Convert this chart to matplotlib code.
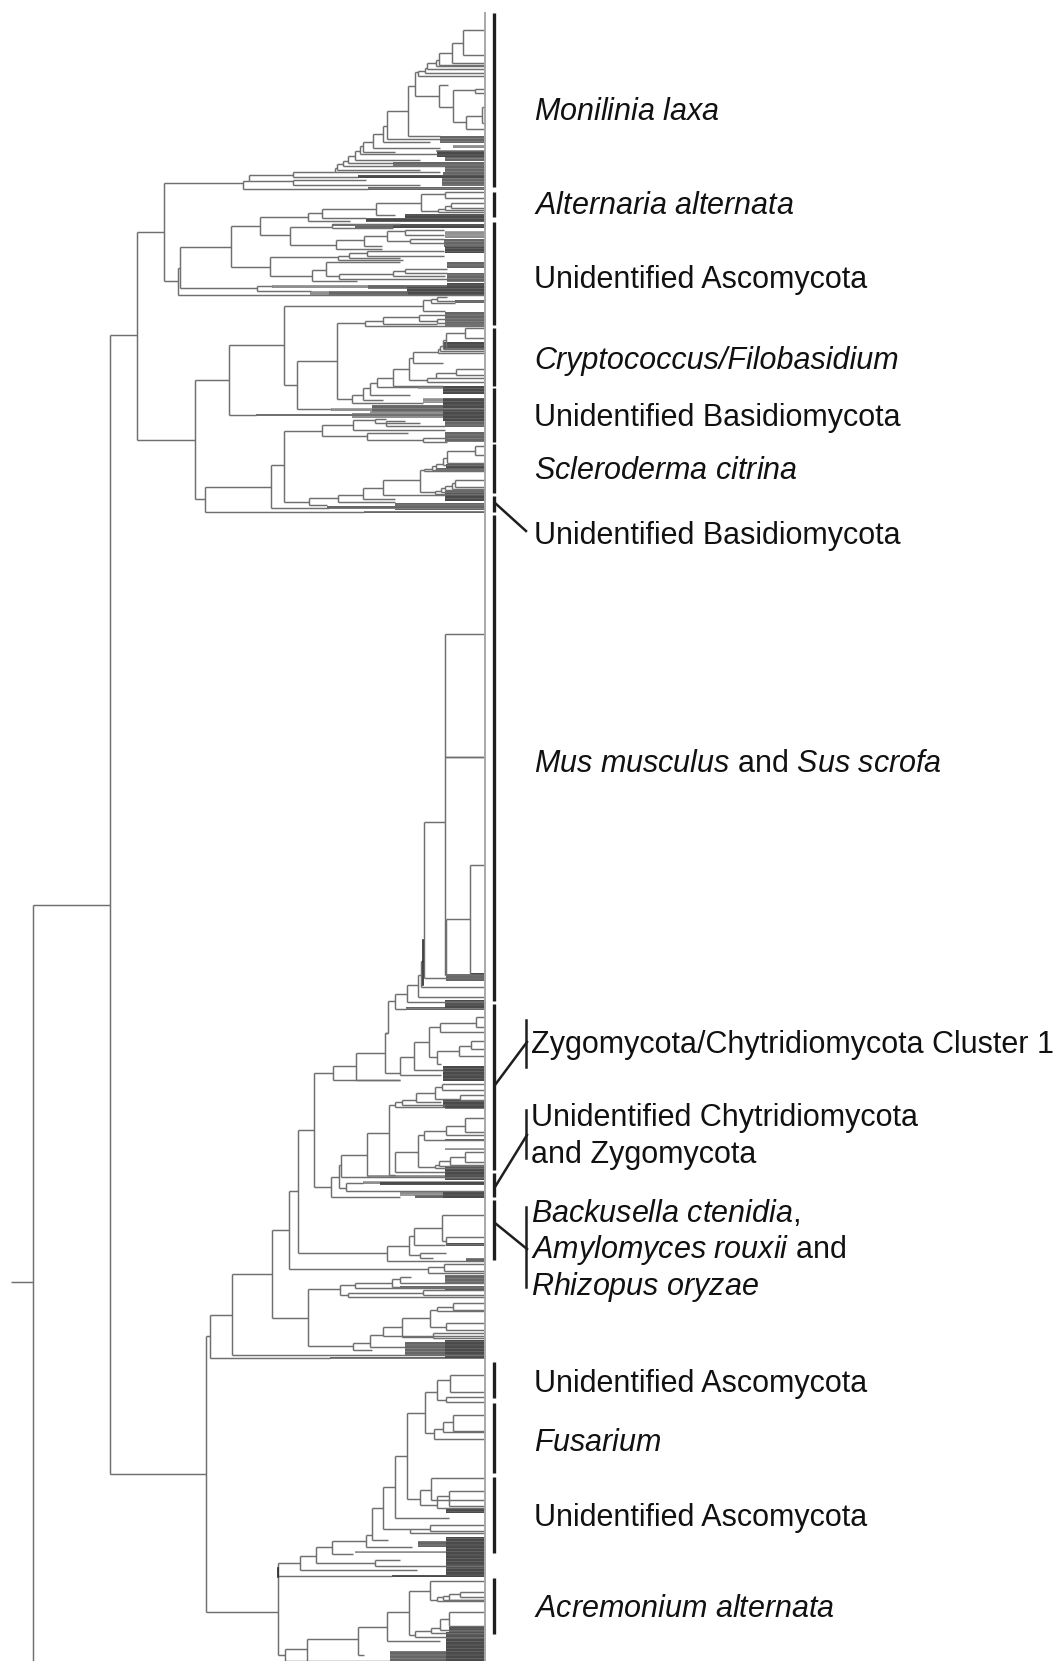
#!/usr/bin/python3
import matplotlib
matplotlib.use("Agg")
import matplotlib.pyplot as plt
from matplotlib.collections import LineCollection

plt.rcParams["font.family"] = ["Liberation Sans", "DejaVu Sans"]
plt.rcParams["mathtext.fontset"] = "custom"
plt.rcParams["mathtext.rm"] = "Liberation Sans"
plt.rcParams["mathtext.it"] = "Liberation Sans:italic"
plt.rcParams["hatch.linewidth"] = 0.45

# branches: (height, y top, end of top arm, y bottom, end of bottom arm)
TIP = 485
ramas_arriba = [
    (137, 232, 164, 440, 195), (164, 183, 243, 281, 178), (243, 181, 249, 189, 368),
    (249, 175, 293, 181, 293), (293, 172, 335, 177, 358), (293, 180, 366, 185, 420),
    (335, 168, 337, 172, 440), (337, 164, 343, 170, 420), (343, 161, 348, 166, 445),
    (348, 156, 355, 163, 393), (355, 151, 360, 160, 420), (360, 146, 363, 154, 437),
    (363, 142, 373, 152, 395), (373, 134, 383, 148, 440), (383, 126, 387, 142, 430),
    (387, 111, 408, 139, 440), (408, 86, 415, 136, 440), (415, 72, 418, 96, 439),
    (439, 85, 448, 107, 453), (453, 90, 475, 122, 466), (475, 89, TIP, 93, TIP),
    (466, 116, 482, 129, TIP), (482, 107, TIP, 123, TIP), (418, 71, 425, 76, TIP),
    (425, 68, 427, 73, TIP), (427, 63, 436, 69, TIP), (436, 60, 439, 66, TIP),
    (439, 53, 452, 65, TIP), (452, 43, 463, 63, TIP), (463, 30, TIP, 55, TIP),
    (178, 268, 180, 295, TIP), (180, 247, 231, 288, 257), (231, 226, 260, 267, 270),
    (257, 286, 272, 291, 311),
    (260, 217, 308, 235, 290), (308, 213, 322, 221, 350), (322, 209, 376, 218, 366),
    (376, 203, 421, 215, 395), (421, 194, 445, 211, 438), (445, 192, TIP, 198, TIP),
    (438, 209, 445, 212, TIP), (445, 206, 451, 210, TIP), (451, 203, TIP, 208, TIP),
    (290, 227, 332, 245, 336), (332, 224, 400, 228, 393), (336, 240, 364, 249, 382),
    (364, 236, 387, 246, 382), (387, 231, 405, 241, 410), (405, 230, 444, 235, 444),
    (410, 239, 444, 243, 444), (270, 257, 338, 276, 312), (338, 256, 349, 260, 403),
    (349, 253, 367, 258, 400), (367, 251, 444, 256, 444), (312, 270, 326, 281, 357),
    (326, 262, 400, 276, 339), (339, 274, 393, 279, 447), (393, 271, 405, 276, 445),
    (405, 269, 447, 273, 447),
]
ramas_basidio = [
    (195, 380, 229, 499, 205), (229, 345, 284, 415, 256), (284, 306, 423, 385, 297),
    (297, 361, 337, 409, 331), (337, 323, 365, 399, 352), (352, 395, 363, 403, 423),
    (363, 388, 370, 400, 383), (370, 383, 377, 395, 410), (377, 378, 393, 387, 418),
    (393, 369, 409, 386, 443), (409, 358, 413, 380, 427), (413, 352, 438, 363, 443),
    (438, 349, 440, 353, TIP), (440, 346, 443, 351, TIP), (443, 340, 446, 349, TIP),
    (446, 333, 465, 348, TIP), (465, 328, TIP, 338, TIP), (427, 378, 436, 382, TIP),
    (436, 373, 456, 378, TIP), (456, 369, TIP, 375, TIP), (423, 300, 431, 311, 445),
    (431, 299, 437, 303, 455), (437, 297, 447, 301, TIP), (365, 321, 383, 326, TIP),
    (383, 317, 419, 324, 437), (419, 315, 445, 321, 437), (437, 319, TIP, 323, TIP),
    (271, 465, 284, 508, 329), (205, 487, 271, 512, 364), (284, 431, 322, 502, 309),
    (322, 425, 353, 436, 367), (353, 420, 375, 430, 445), (375, 419, 386, 423, 420),
    (386, 421, 405, 426, 445), (367, 433, 408, 440, 423), (423, 438, 447, 442, 447),
    (309, 498, 338, 505, 327), (338, 495, 363, 502, 395), (363, 488, 383, 499, 395),
    (383, 480, 420, 495, 445), (420, 470, 424, 492, 435), (424, 469, 432, 471, TIP),
    (432, 466, 436, 470, TIP), (436, 464, 443, 469, TIP), (443, 458, 447, 465, TIP),
    (447, 451, 475, 463, TIP), (475, 446, TIP, 455, TIP), (435, 491, 441, 494, TIP),
    (441, 488, 445, 492, TIP), (445, 486, 452, 490, TIP), (452, 483, 455, 489, TIP),
    (455, 480, TIP, 487, TIP),
]
ramas_abajo = [
    (33, 905, 110, 1661, 33), (110, 335, 137, 1474, 206), (33, 1282, 11, 1282, 33),
    (445, 634, TIP, 975, TIP), (445, 757, TIP, 757, TIP), (446, 919, 470, 975, TIP),
    (470, 865, TIP, 975, TIP), (424, 822, 445, 978, TIP), (421, 961, 424, 987, TIP),
    (418, 975, 421, 997, TIP), (407, 985, 418, 1002, TIP), (395, 994, 407, 1009, 406),
    (388, 1001, 395, 1033, 385), (385, 1033, 388, 1073, 400), (356, 1053, 385, 1080, 400),
    (333, 1066, 356, 1080, 400), (314, 1073, 333, 1187, 331), (298, 1130, 314, 1253, 387),
    (289, 1191, 298, 1269, 428), (272, 1230, 289, 1318, 308), (232, 1274, 272, 1355, TIP),
    (210, 1315, 232, 1358, 330), (206, 1336, 210, 1612, 278), (400, 1057, 414, 1075, 441),
    (414, 1042, 429, 1070, 443), (429, 1027, 440, 1057, 437), (440, 1023, 476, 1032, TIP),
    (476, 1017, TIP, 1027, TIP), (437, 1051, 459, 1064, 441), (459, 1046, 471, 1056, TIP),
    (471, 1041, TIP, 1049, TIP), (331, 1177, 339, 1197, 400), (339, 1165, 341, 1188, 346),
    (341, 1155, 367, 1177, TIP), (346, 1183, 363, 1191, TIP), (367, 1133, 389, 1176, 368),
    (389, 1105, 395, 1175, 395), (395, 1102, 402, 1107, 445), (402, 1100, 416, 1105, 445),
    (416, 1093, 435, 1102, 441), (435, 1087, 442, 1099, 460), (442, 1084, TIP, 1090, TIP),
    (460, 1095, TIP, 1100, TIP), (395, 1152, 418, 1172, 445), (418, 1135, 424, 1167, 435),
    (424, 1131, 446, 1140, TIP), (446, 1126, 465, 1135, TIP), (465, 1118, TIP, 1132, TIP),
    (435, 1165, 439, 1168, TIP), (439, 1161, 450, 1166, TIP), (450, 1157, 465, 1165, TIP),
    (465, 1152, TIP, 1162, TIP), (387, 1246, 409, 1261, TIP), (409, 1236, 414, 1255, 420),
    (414, 1228, 442, 1245, 445), (442, 1215, TIP, 1241, 446), (446, 1237, TIP, 1244, TIP),
    (420, 1253, 446, 1258, 433), (428, 1267, 444, 1273, TIP), (444, 1264, TIP, 1271, TIP),
    (308, 1289, 340, 1346, 353), (340, 1285, 355, 1295, 348), (355, 1283, 392, 1288, TIP),
    (392, 1279, 400, 1287, TIP), (400, 1277, 411, 1283, TIP), (348, 1293, 423, 1297, TIP),
    (423, 1290, TIP, 1295, TIP), (353, 1343, 370, 1350, 372), (370, 1335, 383, 1347, 405),
    (383, 1327, 402, 1336, TIP), (402, 1318, 430, 1337, 433), (430, 1310, 437, 1327, 446),
    (437, 1307, 453, 1311, TIP), (453, 1303, TIP, 1310, TIP), (446, 1323, TIP, 1330, TIP),
    (433, 1333, TIP, 1338, TIP), (407, 1413, 425, 1499, 420), (425, 1392, 437, 1433, 434),
    (437, 1380, 450, 1400, 446), (450, 1375, TIP, 1392, TIP), (446, 1397, TIP, 1402, TIP),
    (434, 1429, 443, 1439, TIP), (443, 1422, 453, 1432, TIP), (453, 1415, TIP, 1431, TIP),
    (395, 1456, 407, 1518, 449), (420, 1490, 431, 1505, 437), (431, 1478, TIP, 1500, TIP),
    (437, 1496, 449, 1508, TIP), (449, 1491, TIP, 1506, TIP), (383, 1487, 395, 1529, 410),
    (372, 1508, 383, 1540, 388), (366, 1535, 372, 1547, 412), (332, 1541, 366, 1554, 353),
    (316, 1547, 332, 1563, 375), (300, 1556, 316, 1570, 417), (278, 1563, 300, 1576, 392),
    (278, 1576, 278, 1655, 285), (285, 1649, 307, 1661, 307), (307, 1639, 358, 1661, 400),
    (358, 1627, 387, 1655, 364), (387, 1612, 409, 1641, 440), (409, 1591, 430, 1635, 415),
    (430, 1581, TIP, 1600, 437), (437, 1597, 443, 1601, TIP), (443, 1596, 449, 1600, TIP),
    (449, 1594, 460, 1600, TIP), (460, 1592, TIP, 1597, TIP), (415, 1631, 431, 1637, TIP),
    (431, 1628, 440, 1633, TIP), (440, 1619, 449, 1630, TIP), (449, 1612, TIP, 1626, TIP),
    (410, 1529, 430, 1533, TIP), (430, 1525, TIP, 1531, TIP), (375, 1560, 400, 1566, TIP),
]

# darker bits of branch: (height, y top, y bottom)
tramos_negros = [(423, 940, 985), (278, 1568, 1577)]

# dark stretches near the tips: (start, y top, y bottom)
bandas_claras = [
    (453, 145, 148), (436, 150, 152), (272, 285, 288), (310, 291, 295), (418, 386, 389),
    (423, 398, 403), (331, 408, 411), (445, 231, 238), (363, 1181, 1184), (400, 1192, 1196),
    (405, 1345, 1348), (368, 1175, 1178), (445, 1148, 1150), (355, 1551, 1553),
    (370, 411, 418), (352, 413, 418),
]
bandas_medias = [
    (440, 136, 143), (445, 157, 161), (393, 162, 166), (445, 165, 172), (443, 172, 175),
    (442, 178, 186), (368, 187, 190), (368, 285, 289), (329, 291, 295), (444, 239, 247),
    (332, 224, 226), (355, 225, 228), (447, 262, 268), (447, 273, 282), (455, 300, 303),
    (445, 312, 326), (372, 405, 412), (256, 414, 416), (445, 420, 427), (445, 432, 442),
    (327, 506, 509), (395, 503, 510), (364, 511, 513),
    (446, 974, 981), (406, 1007, 1010), (445, 1106, 1109), (415, 1195, 1198), (445, 1139, 1141),
    (445, 1275, 1283), (466, 1258, 1261), (400, 1286, 1288), (405, 1342, 1356), (330, 1357, 1359),
    (418, 1541, 1547), (390, 1651, 1661),
]
bandas_oscuras = [
    (437, 151, 157), (358, 175, 178), (393, 224, 228), (405, 214, 219), (366, 218, 222),
    (445, 247, 253), (447, 283, 290), (407, 287, 292), (408, 291, 295), (443, 342, 349),
    (443, 386, 394), (443, 398, 408), (443, 410, 421), (445, 491, 501), (436, 468, 470),
    (446, 464, 470), (470, 973, 976), (445, 1000, 1008), (443, 1066, 1081), (443, 1100, 1108),
    (445, 1167, 1180), (380, 1182, 1185), (443, 1192, 1198), (446, 1243, 1246), (445, 1287, 1290),
    (445, 1340, 1358), (446, 1508, 1513), (446, 1537, 1575), (392, 1575, 1577), (449, 1627, 1632),
    (446, 1632, 1661),
]

# black bars beside the tree
barras_y0 = [13, 192, 222, 328, 388, 444, 496, 515, 1004, 1173, 1200, 1362, 1403, 1477, 1578]
barras_y1 = [187, 217, 325, 386, 442, 493, 512, 1001, 1170, 1197, 1260, 1398, 1473, 1553, 1634]

lideres_x = [(495, 526), (495, 527), (495, 527), (495, 527)]
lideres_y = [(503, 531), (1085, 1042), (1187, 1135), (1223, 1249)]
corchetes_y = [(1020, 1067), (1110, 1158), (1207, 1287)]

etiquetas = [
    r"$\mathit{Monilinia\ laxa}$", r"$\mathit{Alternaria\ alternata}$", "Unidentified Ascomycota",
    "Cryptococcus/Filobasidium", "Unidentified Basidiomycota",
    r"$\mathit{Scleroderma\ citrina}$", "Unidentified Basidiomycota",
    r"$\mathit{Mus\ musculus}$ and $\mathit{Sus\ scrofa}$",
    "Zygomycota/Chytridiomycota Cluster 1", "Unidentified Chytridiomycota", "and Zygomycota",
    r"$\mathit{Backusella\ ctenidia}$,", r"$\mathit{Amylomyces\ rouxii}$ and",
    r"$\mathit{Rhizopus\ oryzae}$", "Unidentified Ascomycota", r"$\mathit{Fusarium}$",
    "Unidentified Ascomycota", r"$\mathit{Acremonium\ alternata}$",
]
etiquetas_y = [112, 206, 280, 361, 418, 471, 536, 764, 1045, 1118, 1155, 1213, 1250, 1287, 1384, 1443, 1518, 1609]

fig = plt.figure(figsize=(10.59, 16.61), dpi=100)
ax = fig.add_axes([0, 0, 1, 1])
ax.set_xlim(0, 1059)
ax.set_ylim(1661, 0)
ax.axis("off")


def dibujar_bandas(bandas, color, veta):
    for x0, y0, y1 in bandas:
        ax.barh((y0 + y1) / 2, TIP - x0, height=y1 - y0, left=x0, color=color,
                edgecolor=veta, hatch="-----", linewidth=0)


segmentos = []
for x, y0, x0, y1, x1 in ramas_arriba + ramas_basidio + ramas_abajo:
    segmentos.append([(x, y0), (x, y1)])
    segmentos.append([(x, y0), (x0, y0)])
    segmentos.append([(x, y1), (x1, y1)])
ax.add_collection(LineCollection(segmentos, colors="#6f6f6f", linewidths=1.05))

dibujar_bandas(bandas_claras, "#909090", "#b0b0b0")
dibujar_bandas(bandas_medias, "#666666", "#8c8c8c")
dibujar_bandas(bandas_oscuras, "#4a4a4a", "#707070")

for x, y0, y1 in tramos_negros:
    ax.plot([x, x], [y0, y1], color="#2a2a2a", lw=1.2)

ax.plot([TIP, TIP], [13, 1661], color="#a8a8a8", lw=1.4)
ax.vlines([494] * len(barras_y0), barras_y0, barras_y1, color="#1e1e1e", lw=2.4)
for xs, ys in zip(lideres_x, lideres_y):
    ax.plot(xs, ys, color="#1e1e1e", lw=1.8)
for y0, y1 in corchetes_y:
    ax.plot([526, 526], [y0, y1], color="#1e1e1e", lw=1.8)

for i, (texto, y) in enumerate(zip(etiquetas, etiquetas_y)):
    x = 531 if 8 <= i <= 13 else 534
    estilo = "italic" if i == 3 else "normal"
    ax.text(x, y, texto, fontsize=22, style=estilo, va="center", ha="left", color="#111111")

fig.savefig("out.png", dpi=100)
